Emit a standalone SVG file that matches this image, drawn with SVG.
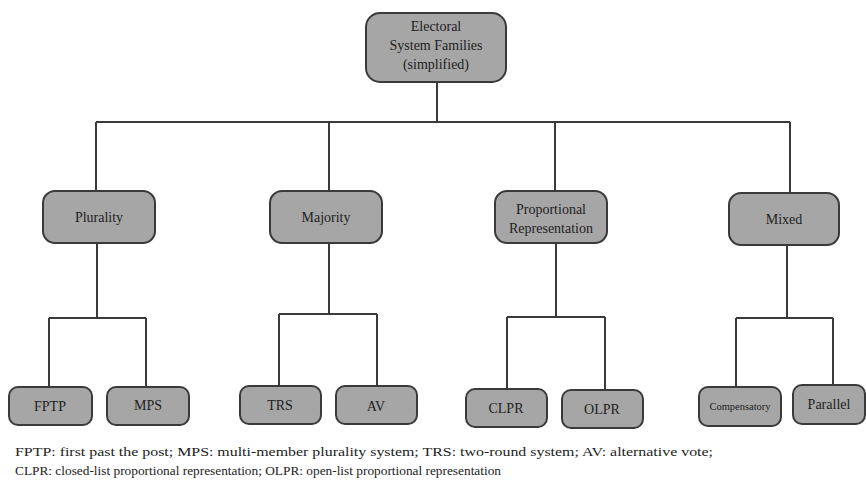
<svg xmlns="http://www.w3.org/2000/svg" width="866" height="485" viewBox="0 0 866 485">
<style>
.box{fill:#a6a6a6;stroke:#3a3a3a;stroke-width:2}
.lbl{font-family:'Liberation Serif','Times New Roman',Times,serif;font-size:14px;fill:#222;text-anchor:middle}
.sm{font-size:10.5px}
.con{fill:none;stroke:#3a3a3a;stroke-width:2}
.note{font-family:'Liberation Serif','Times New Roman',Times,serif;font-size:12.5px;fill:#222}
</style>
<rect width="866" height="485" fill="#fff"/>
<g id="connectors">
<path class="con" d="M437 82V122M96 122H790M96 122V191M329 122V191M555 122V191M790 122V193"/>
<path class="con" d="M97 243V318M49 318H146M49 318V387M146 318V387"/>
<path class="con" d="M329 243V314M279 314H377M279 314V386M377 314V386"/>
<path class="con" d="M556 243V317M507 317H605M507 317V389M605 317V390"/>
<path class="con" d="M787 245V318M736 318H833M736 318V387M833 318V385"/>
</g>
<g id="root"><rect class="box" x="366" y="13" width="140" height="69" rx="14"/>
<text class="lbl" x="436" y="31">Electoral</text><text class="lbl" x="436" y="50">System Families</text><text class="lbl" x="436" y="69">(simplified)</text></g>
<g id="plurality"><rect class="box" x="43" y="191" width="112" height="52" rx="12"/><text class="lbl" x="99" y="222">Plurality</text></g>
<g id="majority"><rect class="box" x="270" y="191" width="112" height="52" rx="12"/><text class="lbl" x="326" y="222">Majority</text></g>
<g id="pr"><rect class="box" x="495" y="191" width="112" height="52" rx="12"/><text class="lbl" x="551" y="214">Proportional</text><text class="lbl" x="551" y="233">Representation</text></g>
<g id="mixed"><rect class="box" x="729" y="193" width="110" height="52" rx="12"/><text class="lbl" x="784" y="224">Mixed</text></g>
<g id="fptp"><rect class="box" x="9" y="387" width="83" height="38" rx="9"/><text class="lbl" x="50" y="411">FPTP</text></g>
<g id="mps"><rect class="box" x="107" y="387" width="82" height="38" rx="9"/><text class="lbl" x="148" y="410">MPS</text></g>
<g id="trs"><rect class="box" x="240" y="386" width="81" height="38" rx="9"/><text class="lbl" x="280" y="410">TRS</text></g>
<g id="av"><rect class="box" x="336" y="386" width="81" height="38" rx="9"/><text class="lbl" x="376" y="411">AV</text></g>
<g id="clpr"><rect class="box" x="466" y="389" width="81" height="38" rx="9"/><text class="lbl" x="506" y="413">CLPR</text></g>
<g id="olpr"><rect class="box" x="562" y="390" width="81" height="38" rx="9"/><text class="lbl" x="602" y="414">OLPR</text></g>
<g id="compensatory"><rect class="box" x="699" y="387" width="82" height="39" rx="9"/><text class="lbl sm" x="740" y="410">Compensatory</text></g>
<g id="parallel"><rect class="box" x="793" y="385" width="72" height="39" rx="9"/><text class="lbl" x="829" y="409">Parallel</text></g>
<g id="notes">
<text class="note" x="15" y="456" textLength="698" lengthAdjust="spacingAndGlyphs">FPTP: first past the post; MPS: multi-member plurality system; TRS: two-round system; AV: alternative vote;</text>
<text class="note" x="15" y="475" textLength="486" lengthAdjust="spacingAndGlyphs">CLPR: closed-list proportional representation; OLPR: open-list proportional representation</text>
</g>
</svg>
